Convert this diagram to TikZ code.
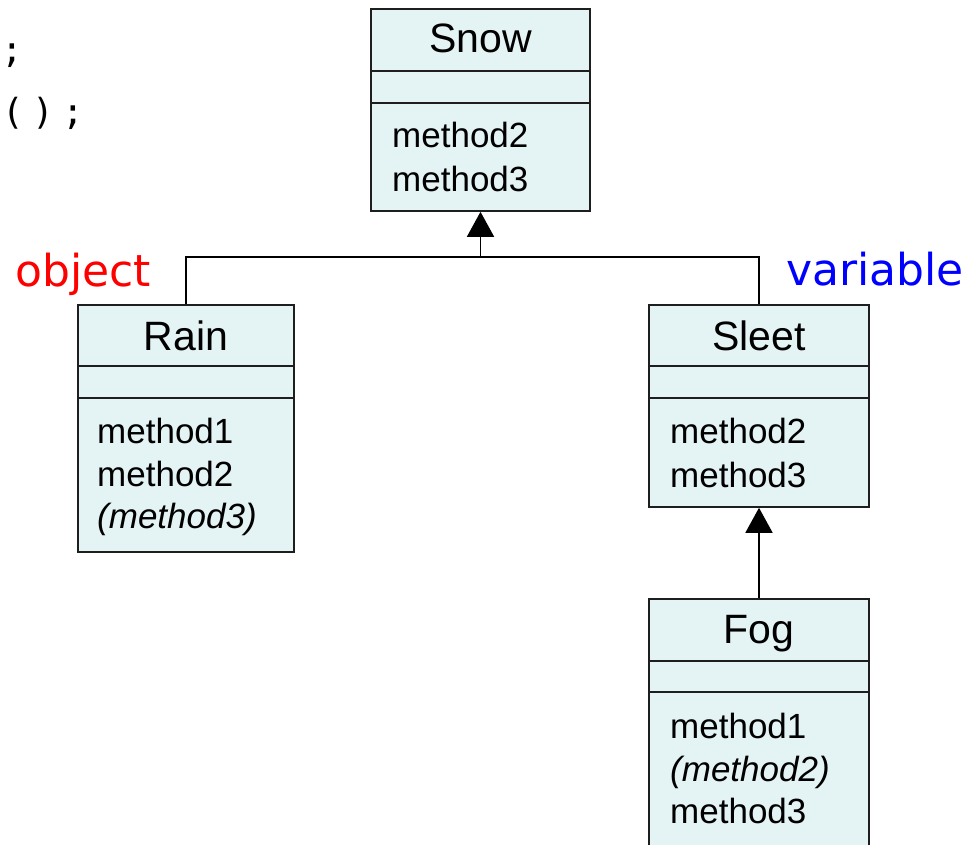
\documentclass[tikz,border=0pt]{standalone}
\usepackage{fontspec}
\setmainfont{Liberation Sans}
\newfontfamily\labelfont{DejaVu Sans}
\newfontfamily\codefont[LetterSpace=24]{DejaVu Sans Mono}
\usetikzlibrary{arrows.meta}
\definecolor{classfill}{RGB}{228,243,244}
\definecolor{classline}{RGB}{30,30,30}
\begin{document}
\begin{tikzpicture}[x=1pt,y=-1pt,
  classbox/.style={draw=classline,fill=classfill,line width=1.6pt,inner sep=0pt,rectangle},
  divider/.style={draw=classline,line width=1.6pt},
  title/.style={inner sep=0pt,anchor=base,font=\fontsize{41}{48}\selectfont},
  member/.style={inner sep=0pt,anchor=base west,font=\fontsize{35}{40}\selectfont},
  abstract/.style={member,font=\fontsize{35}{40}\selectfont\itshape},
  link/.style={draw=black,line width=1.6pt},
  inherit/.style={link,-{Triangle[width=27pt,length=25pt]}},
  tag/.style={inner sep=0pt,anchor=base west,font=\labelfont\fontsize{44}{54}\selectfont}
]
\useasboundingbox (0,0) rectangle (972,845);

% code fragments
\node[inner sep=0pt,anchor=base west,font=\codefont\fontsize{36}{42}\selectfont] (code1) at (1,63) {;};
\node[inner sep=0pt,anchor=base west,font=\codefont\fontsize{36}{42}\selectfont] (code2) at (2,125) {();};

% class Snow
\node[classbox,minimum width=219pt,minimum height=202pt] (snow) at (480.5,110) {};
\draw[divider] (snow.west |- 0,71) -- (snow.east |- 0,71);
\draw[divider] (snow.west |- 0,103) -- (snow.east |- 0,103);
\node[title] (snowt) at (480.5,53) {Snow};
\node[member] (snowm2) at (392,148) {method2};
\node[member] (snowm3) at (392,192) {method3};

% class Rain
\node[classbox,minimum width=216pt,minimum height=247pt] (rain) at (186,428.5) {};
\draw[divider] (rain.west |- 0,366) -- (rain.east |- 0,366);
\draw[divider] (rain.west |- 0,398) -- (rain.east |- 0,398);
\node[title] (raint) at (186,350) {Rain};
\node[member] (rainm1) at (97,443) {method1};
\node[member] (rainm2) at (97,486) {method2};
\node[abstract] (rainm3) at (97,528) {(method3)};

% class Sleet
\node[classbox,minimum width=220pt,minimum height=202pt] (sleet) at (759,406) {};
\draw[divider] (sleet.west |- 0,366) -- (sleet.east |- 0,366);
\draw[divider] (sleet.west |- 0,398) -- (sleet.east |- 0,398);
\node[title] (sleett) at (759,350) {Sleet};
\node[member] (sleetm2) at (670,443) {method2};
\node[member] (sleetm3) at (670,487) {method3};

% class Fog
\node[classbox,minimum width=220pt,minimum height=290pt] (fog) at (759,744) {};
\draw[divider] (fog.west |- 0,661) -- (fog.east |- 0,661);
\draw[divider] (fog.west |- 0,692) -- (fog.east |- 0,692);
\node[title] (fogt) at (759,643) {Fog};
\node[member] (fogm1) at (670,738) {method1};
\node[abstract] (fogm2) at (670,781) {(method2)};
\node[member] (fogm3) at (670,823) {method3};

% generalisation connectors
\coordinate (join) at (480.5,257);
\draw[link] (rain.north) |- (join) -| (sleet.north);
\draw[inherit] (join) -- (snow.south);
\draw[inherit] (fog.north) -- (sleet.south);

% labels
\node[tag,text={rgb,255:red,255;green,0;blue,0}] (objlabel) at (15,287) {object};
\node[tag,text={rgb,255:red,0;green,0;blue,255}] (varlabel) at (786,285) {variable};
\end{tikzpicture}
\end{document}
